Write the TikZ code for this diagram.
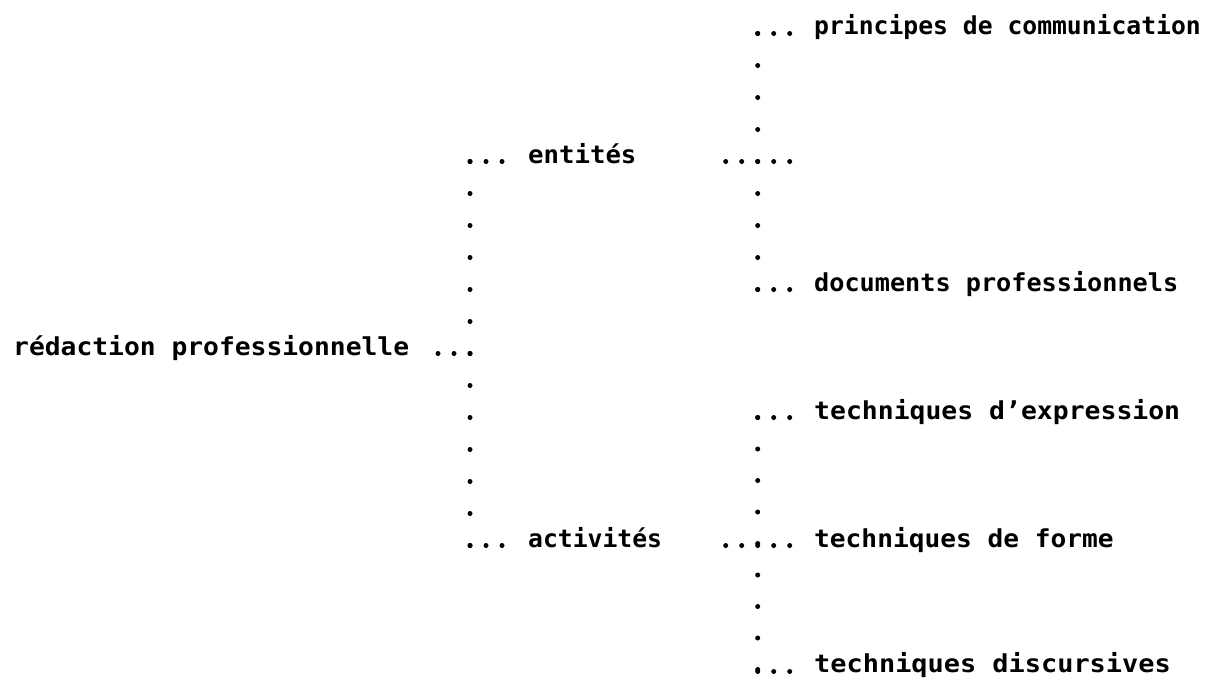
\documentclass[tikz,border=0pt]{standalone}
\usepackage{fontspec}
\newfontfamily\tw{DejaVu Sans Mono}
\newcommand{\sxtext}[2]{\scalebox{#1}[1]{#2}}
\begin{document}
\begin{tikzpicture}[x=1pt,y=-1pt,
  lbl/.style={anchor=base west, inner sep=0pt, font=\tw\bfseries\fontsize{24.7}{24.7}\selectfont, text=black},
  hdots/.style={line width=5pt, line cap=round, dash pattern=on 0pt off 16pt},
  vdots/.style={line width=5pt, line cap=round, dash pattern=on 0pt off 32pt}]
\useasboundingbox (0,0) rectangle (1206,677);
\fill[white] (0,0) rectangle (1206,677);
% text nodes
\node[lbl] (princ) at (814,35)  {principes de communication};
\node[lbl] (ent)   at (528,163) {\sxtext{1.04}{entités}};
\node[lbl] (doc)   at (814,291) {\sxtext{1.02}{documents professionnels}};
\node[lbl] (red)   at (13,355)  {\sxtext{1.065}{rédaction professionnelle}};
\node[lbl] (expr)  at (814,419) {\sxtext{1.07}{techniques d’expression}};
\node[lbl] (act)   at (528,547) {activités};
\node[lbl] (forme) at (814,547) {\sxtext{1.06}{techniques de forme}};
\node[lbl] (disc)  at (814,672) {\sxtext{1.09}{techniques discursives}};
% column coordinates
\coordinate (Ltop) at (470,161.5);
\coordinate (Lbot) at (470,545.5);
\coordinate (Lred) at (470.8,353.5);
\coordinate (Rtop) at (757.7,33.5);
\coordinate (Rmid) at (757.7,289.5);
\coordinate (Rlow) at (757.7,417.5);
\coordinate (Rbot) at (757.7,671.5);
\coordinate (LbotE) at (470,546.3);
\coordinate (RmidE) at (757.7,290.3);
\coordinate (RbotE) at (757.7,672.3);
% dot run ends
\coordinate (p0) at (790.5,33.5);
\coordinate (e0) at (502.8,161.5);
\coordinate (e1) at (725.7,161.5);
\coordinate (e2) at (790.5,161.5);
\coordinate (d0) at (790.5,289.5);
\coordinate (r0) at (438,353.5);
\coordinate (x0) at (790.5,417.5);
\coordinate (a0) at (502.8,545.5);
\coordinate (f1) at (725.7,545.5);
\coordinate (f2) at (790.5,545.5);
\coordinate (s0) at (790.5,671.5);
% vertical dotted connectors
\draw[vdots] (Ltop) -- (LbotE);
\draw[vdots] (Rtop) -- (RmidE);
\draw[vdots, dash pattern=on 0pt off 31.5pt] (Rlow) -- (RbotE);
% horizontal dotted leaders
\draw[hdots] (Rtop) -- (p0);
\draw[hdots] (Ltop) -- (e0);
\draw[hdots] (e1) -- (e2);
\draw[hdots] (Rmid) -- (d0);
\draw[hdots] (r0) -- (Lred);
\draw[hdots] (Rlow) -- (x0);
\draw[hdots] (Lbot) -- (a0);
\draw[hdots] (f1) -- (f2);
\draw[hdots] (Rbot) -- (s0);
\end{tikzpicture}
\end{document}
